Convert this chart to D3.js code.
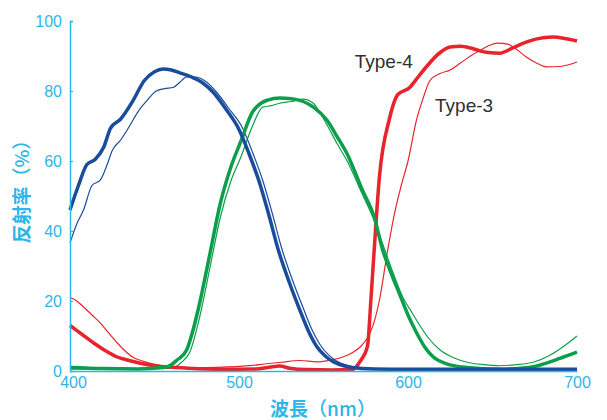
<!DOCTYPE html>
<html>
<head>
<meta charset="utf-8">
<script src="https://cdn.jsdelivr.net/npm/d3@7"></script>
<style>
  body { margin: 0; background: #fff; }
  svg { font-family: "Liberation Sans", Arial, sans-serif; }
</style>
</head>
<body>
<svg id="chart" width="607" height="420"></svg>
<script>
// reflectance spectra, wavelength (nm) vs reflectance (%)
const blue4 = [[400,46],[405,53],[410,59],[415,60.5],[420,64],[424,69.4],[430,72],[437,77],[444,83],[450,85.5],[455,86.3],[460,86],[465,85.2],[472,84],[478,82.5],[485,79.5],[492,75],[500,69],[506,62],[512,54],[518,44],[523,35],[530,25],[536,17.4],[541,11.5],[546,7],[551,4.3],[556,2.6],[562,1.5],[567,1],[580,0.6],[600,0.5],[650,0.5],[700,0.5]];
const blue3 = [[400,36.6],[404,42],[408,46],[413,53],[418,54.6],[422,59],[425,63],[430,66],[434,69],[441,74.6],[446,77.5],[451,80],[456,80.7],[461,81],[465,82.5],[469,84],[474,84],[481,82.5],[487,79.5],[494,75],[502,69.5],[508,62.5],[514,54.5],[520,44.5],[525,35.5],[532,25.5],[538,18],[543,12],[548,7.5],[553,4.6],[558,2.8],[564,1.6],[569,1.1],[580,0.7],[600,0.6],[650,0.6],[700,0.6]];
const green4 = [[400,1],[420,0.7],[440,0.6],[455,1],[460,1.8],[463,3],[469,6],[473,12],[477,20],[483,34],[489,48],[495,58],[501,65.5],[508,74],[513,76.5],[517,77.4],[524,78],[531,77.8],[538,77],[544,75.4],[552,71.7],[558,67],[564,62],[573,51.7],[580,44],[585,34.6],[590,28],[595,22],[600,16],[605,11],[610,6.8],[615,4],[622,2.2],[635,1],[654,0.5],[665,0.7],[674,1.2],[684,2.6],[692,4],[700,5.4]];
const green3 = [[400,0.5],[420,0.5],[440,0.6],[460,0.8],[466,2.5],[471,5.5],[477,16],[483,30],[489,44],[495,54],[501,61],[508,70],[514,75.4],[519,75.8],[524,76.5],[531,77],[538,77.7],[544,76.5],[548,73.7],[553,69.5],[558,65],[564,60],[573,50.5],[580,43],[586,35],[592,27],[597,21],[602,17],[607,13],[612,9.5],[619,6],[627,3.8],[635,2.5],[645,1.8],[654,1.5],[664,1.8],[674,2.5],[684,4.5],[692,7],[700,10]];
const red4 = [[400,13],[407,10.5],[414,8],[421,5.8],[428,4],[435,3],[441,2.3],[449,1.6],[457,1.2],[470,0.8],[490,0.5],[510,0.6],[518,1.1],[524,1.4],[530,0.8],[540,0.4],[555,0.3],[567,0.4],[572,3],[576,7],[578,20],[580,34.6],[583,55],[589,72],[594,79],[601,81],[606,84],[611,87],[619,91],[625,92.6],[631,92.8],[637,92.3],[643,91.4],[649,90.9],[654,90.8],[662,92.3],[668,93.6],[674,94.6],[680,95.2],[686,95.4],[693,95],[700,94.3]];
const red3 = [[400,21],[404,20],[408,18.3],[413,16],[418,13.7],[423,10.8],[428,8],[432,6],[437,4],[442,3],[447,2.3],[457,1.3],[470,1],[480,1],[490,1.1],[500,1.3],[508,1.6],[515,2],[525,2.5],[536,3],[546,2.6],[553,3],[561.5,4],[567,5.2],[572,7],[576,9.5],[579,12.6],[583,20],[588,34.6],[592,45],[596,53],[600,60],[605,71.7],[609,78],[613,83],[619,85],[625,86],[631,88],[637,90],[643,91.7],[648,93],[653,93.7],[659,93.4],[664,92],[670,89.7],[676,88],[682,86.9],[690,87],[695,87.5],[700,88.3]];

const series = [
  {data: red3, color: "#e8232b", width: 1.2},
  {data: green3, color: "#0c9f4b", width: 1.2},
  {data: blue3, color: "#1a4c9c", width: 1.2},
  {data: red4, color: "#e8232b", width: 3.5},
  {data: green4, color: "#0c9f4b", width: 3.5},
  {data: blue4, color: "#1a4c9c", width: 3.5}
];

const xTicks = [400, 500, 600, 700];
const yTicks = [0, 20, 40, 60, 80, 100];
const typeLabels = [{text: "Type-4", wl: 568.5, val: 86.5}, {text: "Type-3", wl: 616, val: 74}];

const axisColor = "#2cb6e9";
const cjk = "'Noto Sans CJK JP', sans-serif";
const svg = d3.select("#chart");

const x = d3.scaleLinear().domain([400, 700]).range([70, 577]);
const y = d3.scaleLinear().domain([0, 100]).range([371, 21]);

const line = d3.line()
  .x(d => x(d[0]))
  .y(d => y(d[1]))
  .curve(d3.curveMonotoneX);

svg.selectAll("path.spec").data(series).enter().append("path")
  .attr("class", "spec")
  .attr("d", d => line(d.data))
  .attr("fill", "none")
  .attr("stroke", d => d.color)
  .attr("stroke-width", d => d.width)
  .attr("stroke-linejoin", "round");

// axes
const yAxis = svg.append("g").attr("transform", "translate(70,0)")
  .call(d3.axisLeft(y).tickValues(yTicks).tickSize(-3).tickPadding(8));
const xAxis = svg.append("g").attr("transform", "translate(0,371)")
  .call(d3.axisBottom(x).tickValues(xTicks).tickSize(0).tickPadding(6));

[yAxis, xAxis].forEach(g => {
  g.select(".domain").attr("stroke", axisColor).attr("stroke-width", 1.5);
  g.selectAll(".tick line").attr("stroke", axisColor).attr("stroke-width", 1.2);
  g.selectAll("text").attr("fill", axisColor)
    .style("font-size", "16px").style("font-family", "'Liberation Sans', Arial, sans-serif");
});
xAxis.selectAll("text").attr("dx", d => d === 400 ? 3 : 0);

// axis titles: bold kanji, regular brackets
const yTitle = svg.append("text")
  .attr("transform", "translate(29,187) rotate(-90)")
  .attr("text-anchor", "middle")
  .attr("fill", axisColor)
  .style("font-size", "19px")
  .style("font-family", cjk);
yTitle.append("tspan").style("font-weight", "bold").text("反射率");
yTitle.append("tspan").style("font-weight", "500").text("（%）");

const xTitle = svg.append("text")
  .attr("x", 323).attr("y", 416)
  .attr("text-anchor", "middle")
  .attr("fill", axisColor)
  .style("font-size", "19px")
  .style("font-family", cjk);
xTitle.append("tspan").style("font-weight", "bold").text("波長");
xTitle.append("tspan").style("font-weight", "500").text("（nm）");

svg.selectAll("text.type").data(typeLabels).enter().append("text")
  .attr("class", "type")
  .attr("x", d => x(d.wl))
  .attr("y", d => y(d.val))
  .attr("fill", "#2f2f2f")
  .style("font-size", "19px")
  .text(d => d.text);
</script>
</body>
</html>
